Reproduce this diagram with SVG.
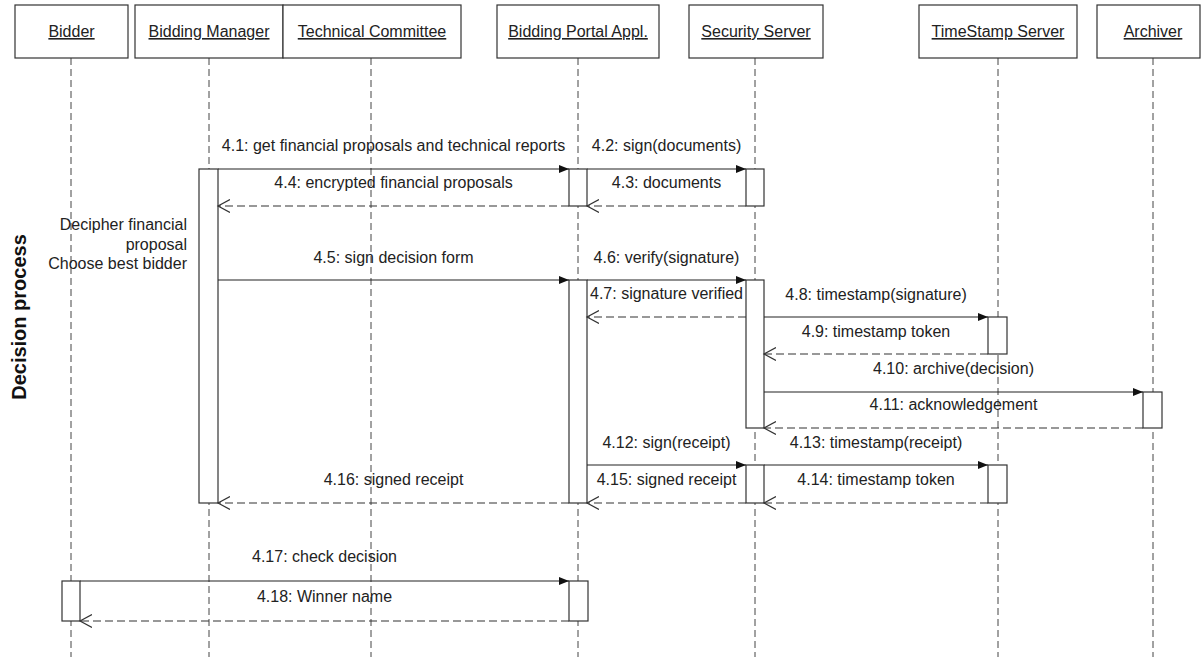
<svg xmlns="http://www.w3.org/2000/svg" width="1202" height="657" viewBox="0 0 1202 657">
  <style>
    .head { fill: #fff; stroke: #333; stroke-width: 1.2; }
    .name { font-family: "Liberation Sans", Arial, sans-serif; font-size: 16px; fill: #222; text-anchor: middle; text-decoration: underline; }
    .life { stroke: #444; stroke-width: 1; stroke-dasharray: 7 4; fill: none; }
    .act { fill: #fff; stroke: #333; stroke-width: 1.2; }
    .call { stroke: #222; stroke-width: 1.2; fill: none; marker-end: url(#solid); }
    .ret { stroke: #333; stroke-width: 1.2; fill: none; stroke-dasharray: 8 4; marker-end: url(#open); }
    .lbl { font-family: "Liberation Sans", Arial, sans-serif; font-size: 16px; fill: #222; text-anchor: middle; }
    .note { font-family: "Liberation Sans", Arial, sans-serif; font-size: 16px; fill: #222; text-anchor: end; }
    .title { font-family: "Liberation Sans", Arial, sans-serif; font-size: 20px; font-weight: bold; fill: #111; text-anchor: middle; }
  </style>
  <defs>
    <marker id="solid" markerUnits="userSpaceOnUse" markerWidth="11" markerHeight="9" refX="10" refY="4" orient="auto">
      <path d="M0,0 L10,4 L0,8 Z" fill="#111" stroke="none"/>
    </marker>
    <marker id="open" markerUnits="userSpaceOnUse" markerWidth="14" markerHeight="14" refX="12" refY="6.5" orient="auto">
      <path d="M0,0 L12,6.5 L0,13" fill="none" stroke="#333" stroke-width="1.2" stroke-dasharray="none"/>
    </marker>
  </defs>

  <rect width="1202" height="657" fill="#fff"/>

  <!-- vertical section title -->
  <text class="title" transform="translate(26,317) rotate(-90)">Decision process</text>

  <!-- participants: header, lifeline, activation bars -->
  <g id="bidder">
    <line class="life" x1="71" y1="58" x2="71" y2="657"/>
    <rect class="head" x="15" y="5" width="113" height="53"/>
    <text class="name" x="71.5" y="37">Bidder</text>
    <rect class="act" x="62" y="581" width="18" height="40"/>
  </g>
  <g id="bidding-manager">
    <line class="life" x1="209" y1="58" x2="209" y2="657"/>
    <rect class="head" x="135" y="5" width="148" height="53"/>
    <text class="name" x="209" y="37">Bidding Manager</text>
    <rect class="act" x="199" y="169" width="19" height="334"/>
    <text class="note" x="187" y="230">Decipher financial</text>
    <text class="note" x="187" y="250">proposal</text>
    <text class="note" x="187" y="269">Choose best bidder</text>
  </g>
  <g id="technical-committee">
    <line class="life" x1="371" y1="58" x2="371" y2="657"/>
    <rect class="head" x="283" y="5" width="178" height="53"/>
    <text class="name" x="372" y="37">Technical Committee</text>
  </g>
  <g id="bidding-portal">
    <line class="life" x1="578" y1="58" x2="578" y2="657"/>
    <rect class="head" x="497" y="5" width="162" height="53"/>
    <text class="name" x="578" y="37">Bidding Portal Appl.</text>
    <rect class="act" x="569" y="169" width="18" height="37"/>
    <rect class="act" x="569" y="280" width="18" height="223"/>
    <rect class="act" x="569" y="581" width="19" height="40"/>
  </g>
  <g id="security-server">
    <line class="life" x1="755" y1="58" x2="755" y2="657"/>
    <rect class="head" x="689" y="5" width="134" height="53"/>
    <text class="name" x="756" y="37">Security Server</text>
    <rect class="act" x="746" y="169" width="18" height="37"/>
    <rect class="act" x="746" y="280" width="18" height="148"/>
    <rect class="act" x="746" y="465" width="18" height="38"/>
  </g>
  <g id="timestamp-server">
    <line class="life" x1="998" y1="58" x2="998" y2="657"/>
    <rect class="head" x="919" y="5" width="158" height="53"/>
    <text class="name" x="998" y="37">TimeStamp Server</text>
    <rect class="act" x="988" y="317" width="19" height="37"/>
    <rect class="act" x="988" y="465" width="19" height="38"/>
  </g>
  <g id="archiver">
    <line class="life" x1="1153" y1="58" x2="1153" y2="657"/>
    <rect class="head" x="1097" y="5" width="103" height="53"/>
    <text class="name" x="1153" y="37">Archiver</text>
    <rect class="act" x="1143" y="392" width="19" height="36"/>
  </g>

  <!-- messages -->
  <g id="messages">
    <line class="call" x1="218" y1="169" x2="569" y2="169"/>
    <text class="lbl" x="393.5" y="151">4.1: get financial proposals and technical reports</text>
    <line class="call" x1="587" y1="169" x2="746" y2="169"/>
    <text class="lbl" x="666.5" y="151">4.2: sign(documents)</text>
    <line class="ret" x1="746" y1="206" x2="587" y2="206"/>
    <text class="lbl" x="666.5" y="188">4.3: documents</text>
    <line class="ret" x1="569" y1="206" x2="218" y2="206"/>
    <text class="lbl" x="393.5" y="188">4.4: encrypted financial proposals</text>

    <line class="call" x1="218" y1="280" x2="569" y2="280"/>
    <text class="lbl" x="393.5" y="263">4.5: sign decision form</text>
    <line class="call" x1="587" y1="280" x2="746" y2="280"/>
    <text class="lbl" x="666.5" y="263">4.6: verify(signature)</text>
    <line class="ret" x1="746" y1="317" x2="587" y2="317"/>
    <text class="lbl" x="666.5" y="299">4.7: signature verified</text>
    <line class="call" x1="764" y1="317" x2="988" y2="317"/>
    <text class="lbl" x="876" y="300">4.8: timestamp(signature)</text>
    <line class="ret" x1="988" y1="354" x2="764" y2="354"/>
    <text class="lbl" x="876" y="337">4.9: timestamp token</text>
    <line class="call" x1="764" y1="392" x2="1143" y2="392"/>
    <text class="lbl" x="953.5" y="374">4.10: archive(decision)</text>
    <line class="ret" x1="1143" y1="428" x2="764" y2="428"/>
    <text class="lbl" x="953.5" y="410">4.11: acknowledgement</text>

    <line class="call" x1="587" y1="465" x2="746" y2="465"/>
    <text class="lbl" x="666.5" y="448">4.12: sign(receipt)</text>
    <line class="call" x1="764" y1="465" x2="988" y2="465"/>
    <text class="lbl" x="876" y="448">4.13: timestamp(receipt)</text>
    <line class="ret" x1="988" y1="503" x2="764" y2="503"/>
    <text class="lbl" x="876" y="485">4.14: timestamp token</text>
    <line class="ret" x1="746" y1="503" x2="587" y2="503"/>
    <text class="lbl" x="666.5" y="485">4.15: signed receipt</text>
    <line class="ret" x1="569" y1="503" x2="218" y2="503"/>
    <text class="lbl" x="393.5" y="485">4.16: signed receipt</text>

    <line class="call" x1="80" y1="581" x2="569" y2="581"/>
    <text class="lbl" x="324.5" y="562">4.17: check decision</text>
    <line class="ret" x1="569" y1="621" x2="80" y2="621"/>
    <text class="lbl" x="324.5" y="602">4.18: Winner name</text>
  </g>
</svg>
